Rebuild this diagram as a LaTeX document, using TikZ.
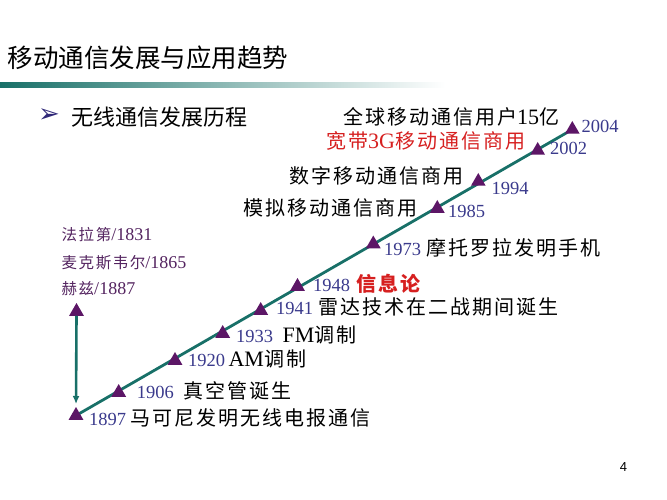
\documentclass[tikz,border=0pt]{standalone}
\usepackage{fontspec}
\setmainfont{Liberation Serif}
\newfontfamily\cjk{Noto Sans CJK SC}
\newfontfamily\cjklargo[LetterSpace=10]{Noto Sans CJK SC}
\newfontfamily\simbolo{DejaVu Sans}
\newfontfamily\pagina{Liberation Sans}
\usetikzlibrary{
    positioning, % Para posicionar nós de forma relativa (ex: base right=of)
    arrows.meta,  % Para a ponta da seta (Latex)
    backgrounds,
    shapes.geometric
}
\definecolor{verdeLinha}{RGB}{24,112,104}
\definecolor{roxoMarco}{RGB}{92,22,102}
\definecolor{azulAno}{RGB}{58,58,140}
\definecolor{roxoTexto}{RGB}{84,36,96}
\definecolor{azulMarcador}{RGB}{48,40,120}
\definecolor{vermelho}{RGB}{214,32,32}
\newcommand{\zh}[1]{{\cjklargo\fontsize{20}{24}\selectfont #1}}
\newcommand{\zhp}[1]{{\cjklargo\fontsize{15.5}{18}\selectfont #1}}

\begin{document}
\begin{tikzpicture}[x=1pt, y=-1pt] % Coordenadas em pontos, eixo y para baixo

    % --- Definição de Estilos ---
    \tikzset{
        % Triângulo de cada marco
        marco/.style={
            regular polygon,
            regular polygon sides=3,
            fill=roxoMarco,
            minimum size=17pt,
            inner sep=0pt,
            outer sep=0pt
        },
        % Ano ao lado do marco
        ano/.style={
            text=azulAno,
            font=\fontsize{18.5}{22}\selectfont,
            inner sep=0pt,
            anchor=west
        },
        % Texto do evento
        evento/.style={
            font=\fontsize{22}{26}\selectfont,
            inner sep=0pt
        },
        % Nomes dos pioneiros
        pioneiro/.style={
            text=roxoTexto,
            font=\fontsize{18}{22}\selectfont,
            inner sep=0pt,
            anchor=west
        },
        % Linha do tempo e seta
        linha_tempo/.style={
            draw=verdeLinha,
            line width=2.8pt
        },
        seta_tempo/.style={
            -{Latex[length=8pt,width=7pt]}, % Estilo da ponta da seta
            draw=verdeLinha,
            line width=2.6pt,
            shorten >=3pt
        }
    }

    \useasboundingbox (0,0) rectangle (667,500);

    % --- Título da Figura ---
    \node[anchor=west, inner sep=0pt, font=\cjk\fontsize{25.5}{30}\selectfont] (titulo) at (7.5,58) {移动通信发展与应用趋势};
    \shade[left color=verdeLinha, right color=white] (0,83) rectangle (445,88);

    \node[inner sep=0pt, text=azulMarcador, font=\simbolo\fontsize{26}{30}\selectfont] (marcador) at (49,116) {➢};
    \node[anchor=west, inner sep=0pt, font=\cjk\fontsize{22}{26}\selectfont] (subtitulo) at (71.5,117) {无线通信发展历程};

    % --- Marcos (triângulos) ---
    \node[marco] (t1897) at (76,415.5) {};
    \node[marco] (t1906) at (118.7,392.5) {};
    \node[marco] (t1920) at (175,360.5) {};
    \node[marco] (t1933) at (222.7,333.5) {};
    \node[marco] (t1941) at (260.7,310.5) {};
    \node[marco] (t1948) at (297.5,286.5) {};
    \node[marco] (t1973) at (373.3,244) {};
    \node[marco] (t1985) at (437.3,208.5) {};
    \node[marco] (t1994) at (478.3,181.5) {};
    \node[marco] (t2002) at (537.7,150.5) {};
    \node[marco] (t2004) at (572.3,129.5) {};
    \node[marco] (tHertz) at (76.5,311.5) {};

    % --- Anos ---
    \node[ano] (y1897) at (89,419.5) {1897};
    \node[ano] (y1906) at (136.7,392.5) {1906};
    \node[ano] (y1920) at (188,360.5) {1920};
    \node[ano] (y1933) at (236,336) {1933};
    \node[ano] (y1941) at (276,308.5) {1941};
    \node[ano] (y1948) at (313,285.5) {1948};
    \node[ano] (y1973) at (384,249.5) {1973};
    \node[ano] (y1985) at (448,211.5) {1985};
    \node[ano] (y1994) at (491.5,188.5) {1994};
    \node[ano] (y2002) at (550,148) {2002};
    \node[ano] (y2004) at (581.5,126.5) {2004};

    % --- Eventos ---
    \node[evento, base right=4pt of y1897] (e1897) {\zh{马可尼发明无线电报通信}};
    \node[evento, base right=9.5pt of y1906] (e1906) {\zh{真空管诞生}};
    \node[evento, base right=3pt of y1920] (e1920) {AM\zh{调制}};
    \node[evento, base right=9pt of y1933] (e1933) {FM\zh{调制}};
    \node[evento, base right=5pt of y1941] (e1941) {\zh{雷达技术在二战期间诞生}};
    \node[evento, base right=6pt of y1948, text=vermelho] (e1948) {\bfseries\zh{信息论}};
    \node[evento, base right=5pt of y1973] (e1973) {\zh{摩托罗拉发明手机}};
    \node[evento, anchor=west] (e1985) at (243,208) {\zh{模拟移动通信商用}};
    \node[evento, anchor=west] (e1994) at (289,176) {\zh{数字移动通信商用}};
    \node[evento, anchor=west, text=vermelho] (e2002) at (326,141) {\zh{宽带}3G\zh{移动通信商用}};
    \node[evento, anchor=west] (e2004) at (343,116.5) {\zh{全球移动通信用户}15\zh{亿}};

    % --- Pioneiros ---
    \node[pioneiro] (faraday) at (61.5,235) {\zhp{法拉第}/1831};
    \node[pioneiro] (maxwell) at (61.5,262.7) {\zhp{麦克斯韦尔}/1865};
    \node[pioneiro] (hertz) at (61.5,289) {\zhp{赫兹}/1887};

    \node[inner sep=0pt, font=\pagina\fontsize{13}{15}\selectfont] (pagina) at (623.5,467.5) {4};

    % --- Linha do tempo e seta ---
    \begin{scope}[on background layer]
        \draw[linha_tempo] (t1897.center) -- (t2004.center);
    \end{scope}
    \draw[seta_tempo] (tHertz.south) -- (t1897.north);

\end{tikzpicture}
\end{document}
